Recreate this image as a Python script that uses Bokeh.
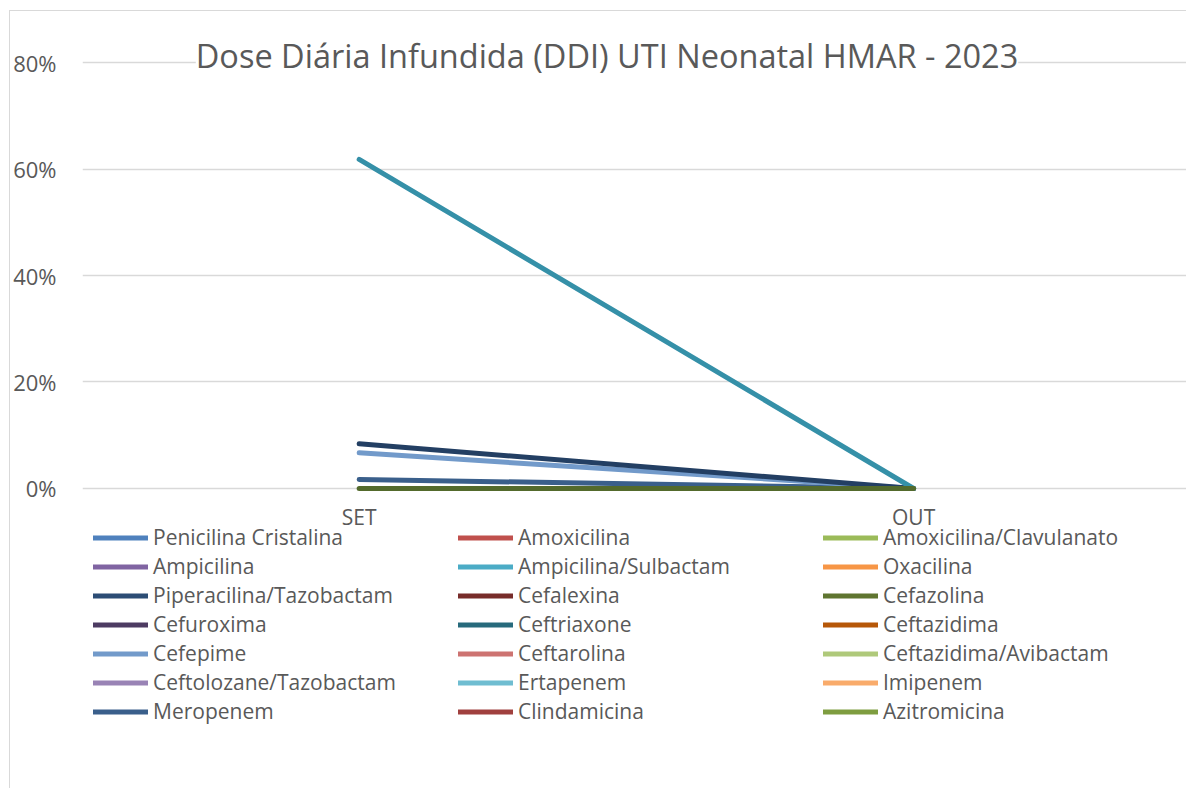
from bokeh.plotting import figure
from bokeh.models import (Range1d, FixedTicker, NumeralTickFormatter, Legend, LegendItem, Label)
from bokeh.embed import file_html
from bokeh.resources import INLINE

categories = ["SET", "OUT"]
series_names = [
    "Penicilina Cristalina", "Amoxicilina", "Amoxicilina/Clavulanato",
    "Ampicilina", "Ampicilina/Sulbactam", "Oxacilina",
    "Piperacilina/Tazobactam", "Cefalexina", "Cefazolina",
    "Cefuroxima", "Ceftriaxone", "Ceftazidima",
    "Cefepime", "Ceftarolina", "Ceftazidima/Avibactam",
    "Ceftolozane/Tazobactam", "Ertapenem", "Imipenem",
    "Meropenem", "Clindamicina", "Azitromicina",
]
series_colors = [
    "#4F81BD", "#C0504D", "#9BBB59",
    "#8064A2", "#4BACC6", "#F79646",
    "#2C4D75", "#772C2A", "#5F7530",
    "#4D3B62", "#276A7C", "#B65708",
    "#729ACA", "#CD7371", "#AFC97A",
    "#9983B5", "#6FBDD1", "#F9AB6B",
    "#3A5F8B", "#A0403E", "#7E9D40",
]
nan = float("nan")
series_values = {
    "Ampicilina/Sulbactam": [0.618, 0.0],
    "Piperacilina/Tazobactam": [0.084, 0.0],
    "Cefepime": [0.067, 0.0],
    "Meropenem": [0.017, 0.0],
    "Cefazolina": [0.0, 0.0],
}
# order in which the visible lines are stacked (last on top)
draw_order = ["Meropenem", "Cefepime", "Piperacilina/Tazobactam", "Ampicilina/Sulbactam", "Cefazolina"]
# colour the plotted line appears with in the picture (where it differs from its key)
plotted_colors = {
    "Ampicilina/Sulbactam": "#3590A8",
    "Piperacilina/Tazobactam": "#233F63",
    "Cefazolina": "#536A2C",
}
y_ticks = [0.0, 0.2, 0.4, 0.6, 0.8]
title_text = "Dose Diária Infundida (DDI) UTI Neonatal HMAR - 2023"

FONT = "Open Sans"
TXT = "#595959"
GRID = "#D9D9D9"

xs = list(range(len(categories)))
color_of = dict(zip(series_names, series_colors))

p = figure(width=1177, height=778, output_backend="svg", toolbar_location=None,
           x_range=Range1d(-0.499, 1.494), y_range=Range1d(-0.5653, 0.8958),
           min_border_left=67, min_border_top=0, min_border_right=0, min_border_bottom=0)
p.styles = {"margin-left": "9px", "margin-top": "10px",
            "border-left": "1px solid #D9D9D9", "border-top": "1px solid #D9D9D9"}
p.outline_line_color = None
p.background_fill_color = "white"
p.border_fill_color = "white"

p.xaxis.visible = False
p.xgrid.grid_line_color = None
p.ygrid.grid_line_color = GRID
p.ygrid.grid_line_width = 1.5
p.ygrid.ticker = FixedTicker(ticks=y_ticks)

yax = p.yaxis[0]
yax.ticker = FixedTicker(ticks=y_ticks)
yax.formatter = NumeralTickFormatter(format="0%")
yax.axis_line_color = None
yax.major_tick_line_color = None
yax.minor_tick_line_color = None
yax.major_label_text_font = FONT
yax.major_label_text_font_size = "22px"
yax.major_label_text_color = TXT
yax.major_label_standoff = 20

for name in draw_order:
    p.line(xs, series_values[name], line_color=plotted_colors.get(name, color_of[name]),
           line_width=5, line_cap="round", line_join="round")

items = []
for name, color in zip(series_names, series_colors):
    key = p.line(xs, [nan] * len(xs), line_color=color, line_width=5, line_cap="round")
    items.append(LegendItem(label=name, renderers=[key]))

# category labels under the zero line
p.text(x=xs, y=[0.0] * len(xs), text=categories, text_align="center",
       text_baseline="alphabetic", y_offset=29, text_font={"value": FONT},
       text_font_size="21px", text_color=TXT)

legend = Legend(items=items, orientation="horizontal", ncols=3,
                location=(11, 63.5), padding=0, margin=0, spacing=0,
                glyph_width=55, glyph_height=29, label_height=29, label_width=305,
                label_standoff=5, border_line_color=None, background_fill_alpha=0,
                label_text_font=FONT, label_text_font_size="21px", label_text_color=TXT)
p.add_layout(legend)

title = Label(x=0.447, y=0.8, text=title_text, text_align="center", text_baseline="alphabetic",
              y_offset=7, text_font=FONT, text_font_size="32.5px", text_color=TXT,
              background_fill_color="white")
p.add_layout(title)

open("out.html", "w").write(file_html(p, INLINE))
